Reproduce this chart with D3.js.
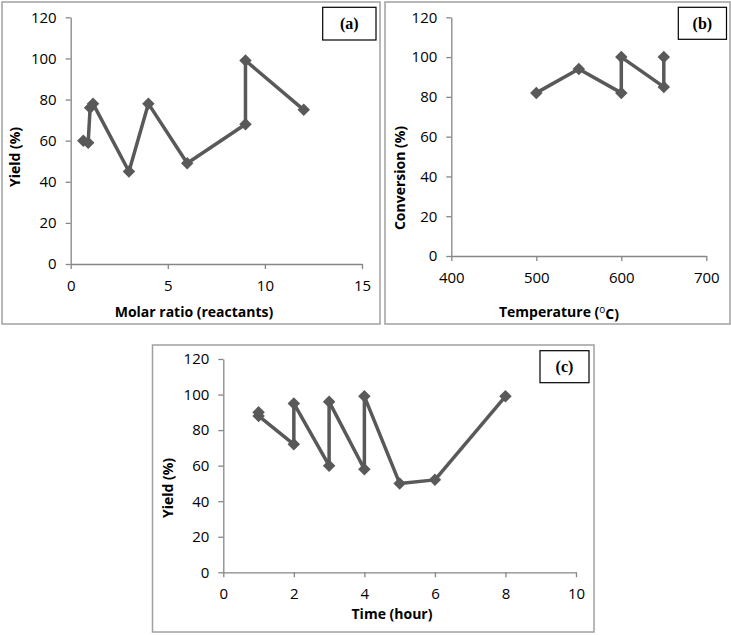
<!DOCTYPE html>
<html>
<head>
<meta charset="utf-8">
<script src="https://cdn.jsdelivr.net/npm/d3@7"></script>
<style>
  html, body { margin: 0; padding: 0; background: #fff; }
  svg { display: block; }
</style>
</head>
<body>
<svg id="chart" width="731" height="635"></svg>
<script>
// ---- Data ----
// (a) Molar ratio vs Yield
const molarRatio = [0.65, 0.9, 1.0, 1.15, 3, 4, 6, 9, 9, 12];
const yieldA     = [60, 59, 76, 78, 45, 78, 49, 68, 99, 75];
// (b) Temperature vs Conversion
const temperature = [500, 550, 600, 600, 650, 650];
const conversion  = [82, 94, 82, 100, 85, 100];
// (c) Time vs Yield
const timeHour = [1, 1, 2, 2, 3, 3, 4, 4, 5, 6, 8];
const yieldC   = [90, 88, 72, 95, 60, 96, 58, 99, 50, 52, 99];

const yTicks = [0, 20, 40, 60, 80, 100, 120];
const xTicksA = [0, 5, 10, 15];
const xTicksB = [400, 500, 600, 700];
const xTicksC = [0, 2, 4, 6, 8, 10];

const panelLabels = ["(a)", "(b)", "(c)"];
const xTitles = ["Molar ratio (reactants)", "Temperature (\u00B0C)", "Time (hour)"];
const yTitles = ["Yield (%)", "Conversion (%)", "Yield (%)"];

// ---- Layout ----
const svg = d3.select("#chart");
const LINE = "#595959";
const AXIS = "#868686";
const FONT = "'Open Sans', 'Noto Sans', sans-serif";

const panels = [
  { box: [2, 2, 380, 324], plot: { x0: 70.7, x1: 362, y0: 264, y1: 17.3 },
    xDomain: [0, 15], xTicks: xTicksA, xs: molarRatio, ys: yieldA,
    label: panelLabels[0], labelBox: [322.7, 7.3, 376, 40],
    xTitle: xTitles[0], xTitlePos: [194, 312], yTitle: yTitles[0], yTitlePos: [15, 157], sup: false },
  { box: [385, 2, 730, 324], plot: { x0: 451.3, x1: 706.3, y0: 256, y1: 17.3 },
    xDomain: [400, 700], xTicks: xTicksB, xs: temperature, ys: conversion,
    label: panelLabels[1], labelBox: [678.3, 7.3, 726.5, 39.3],
    xTitle: xTitles[1], xTitlePos: [559, 312], yTitle: yTitles[1], yTitlePos: [400, 178], sup: true },
  { box: [152.5, 345, 594, 632], plot: { x0: 223.3, x1: 576, y0: 572.3, y1: 359 },
    xDomain: [0, 10], xTicks: xTicksC, xs: timeHour, ys: yieldC,
    label: panelLabels[2], labelBox: [540, 350.7, 589, 382.7],
    xTitle: xTitles[2], xTitlePos: [392, 614], yTitle: yTitles[2], yTitlePos: [167.5, 488], sup: false }
];

panels.forEach(p => {
  const g = svg.append("g");
  // panel border
  g.append("rect")
    .attr("x", p.box[0]).attr("y", p.box[1])
    .attr("width", p.box[2] - p.box[0]).attr("height", p.box[3] - p.box[1])
    .attr("fill", "#fff").attr("stroke", "#a0a0a0").attr("stroke-width", 1.5);

  const x = d3.scaleLinear().domain(p.xDomain).range([p.plot.x0, p.plot.x1]);
  const y = d3.scaleLinear().domain([0, 120]).range([p.plot.y0, p.plot.y1]);

  // y axis
  const ya = g.append("g").attr("transform", `translate(${p.plot.x0},0)`)
    .call(d3.axisLeft(y).tickValues(yTicks).tickSize(5).tickSizeOuter(0).tickPadding(9));
  // x axis
  const xa = g.append("g").attr("transform", `translate(0,${p.plot.y0})`)
    .call(d3.axisBottom(x).tickValues(p.xTicks).tickSize(5).tickSizeOuter(0).tickPadding(11));
  [ya, xa].forEach(a => {
    a.select(".domain").attr("stroke", AXIS).attr("stroke-width", 1.3);
    a.selectAll(".tick line").attr("stroke", AXIS).attr("stroke-width", 1.3);
    a.selectAll(".tick text").attr("fill", "#000").style("font-family", FONT).style("font-size", "15px");
  });

  // line
  const pts = p.xs.map((v, i) => [v, p.ys[i]]);
  g.append("path")
    .datum(pts)
    .attr("fill", "none").attr("stroke", LINE).attr("stroke-width", 3.5)
    .attr("stroke-linejoin", "round")
    .attr("d", d3.line().x(d => x(d[0])).y(d => y(d[1])));

  // markers (diamonds)
  const sym = d3.symbol().type(d3.symbolSquare).size(78);
  g.selectAll("path.mk").data(pts).enter().append("path")
    .attr("class", "mk")
    .attr("d", sym)
    .attr("fill", LINE)
    .attr("transform", d => `translate(${x(d[0])},${y(d[1])}) rotate(45)`);

  // axis titles
  const xt = g.append("text")
    .attr("x", p.xTitlePos[0]).attr("y", p.xTitlePos[1]).attr("dy", "0.36em")
    .attr("text-anchor", "middle")
    .style("font-family", FONT).style("font-size", "14px").style("font-weight", "bold");
  if (p.sup) {
    xt.append("tspan").text("Temperature (");
    xt.append("tspan").text("o").attr("dy", "-0.4em").style("font-size", "10px").style("font-weight", "normal");
    xt.append("tspan").text("C)").attr("dy", "0.4em");
  } else {
    xt.text(p.xTitle);
  }
  g.append("text")
    .attr("transform", `translate(${p.yTitlePos[0]},${p.yTitlePos[1]}) rotate(-90)`)
    .attr("dy", "0.36em")
    .attr("text-anchor", "middle")
    .style("font-family", FONT).style("font-size", "14px").style("font-weight", "bold")
    .text(p.yTitle);

  // panel label box
  g.append("rect")
    .attr("x", p.labelBox[0]).attr("y", p.labelBox[1])
    .attr("width", p.labelBox[2] - p.labelBox[0]).attr("height", p.labelBox[3] - p.labelBox[1])
    .attr("fill", "#fff").attr("stroke", "#000").attr("stroke-width", 1.2);
  g.append("text")
    .attr("x", (p.labelBox[0] + p.labelBox[2]) / 2)
    .attr("y", (p.labelBox[1] + p.labelBox[3]) / 2)
    .attr("dy", "0.35em")
    .attr("text-anchor", "middle")
    .style("font-family", "'Liberation Serif', 'DejaVu Serif', serif")
    .style("font-size", "16px").style("font-weight", "bold")
    .text(p.label);
});
</script>
</body>
</html>
